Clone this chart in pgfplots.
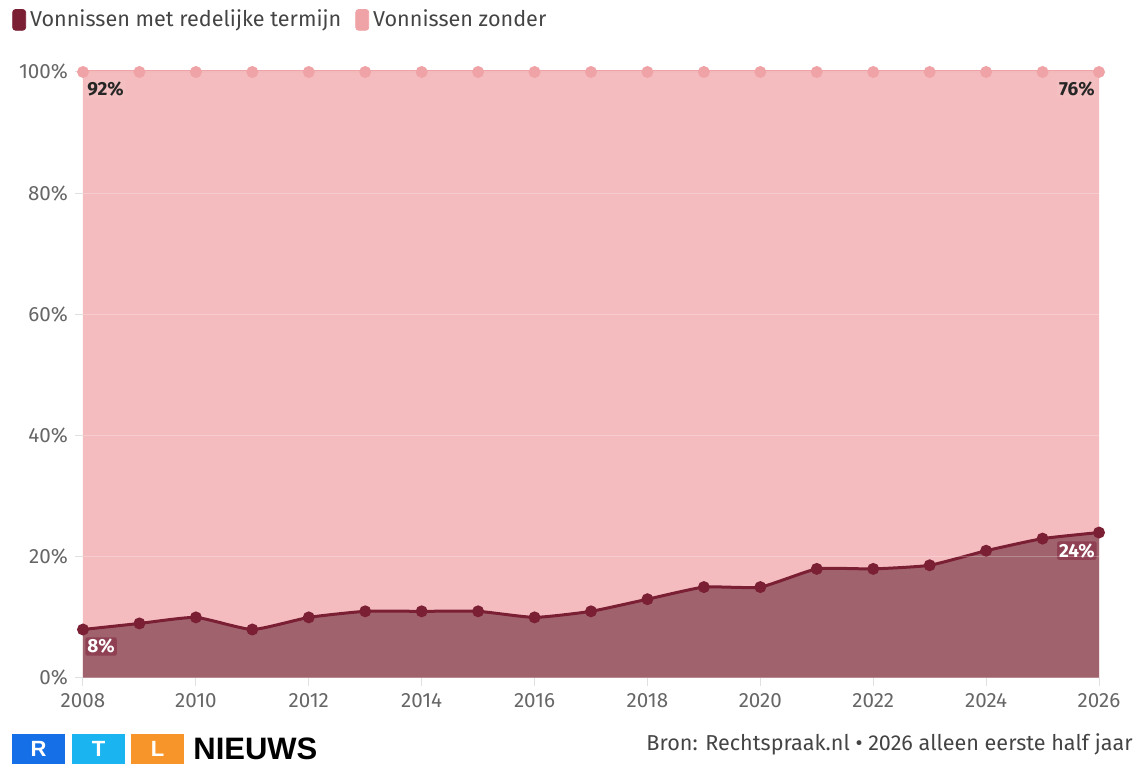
\documentclass[border=0pt]{standalone}
\usepackage{fontspec}
\setmainfont{Fira Sans}
\newfontfamily\logofont{Liberation Sans}
\usepackage{pgfplots}
\pgfplotsset{compat=1.18}
\usepackage{pgfplotstable}
\definecolor{darkline}{HTML}{7B1F35}
\definecolor{darkfill}{HTML}{A0636E}
\definecolor{lightfill}{HTML}{F4BCBF}
\definecolor{lightline}{HTML}{F0A3A6}
\definecolor{ticktext}{HTML}{666666}
\definecolor{legtext}{HTML}{444444}
\definecolor{rtlR}{HTML}{156FE6}
\definecolor{rtlT}{HTML}{1AB4F0}
\definecolor{rtlL}{HTML}{F7952A}

\pgfplotstableread{
year met zonder
2008 8 92
2009 9 91
2010 10 90
2011 8 92
2012 10 90
2013 11 89
2014 11 89
2015 11 89
2016 10 90
2017 11 89
2018 13 87
2019 15 85
2020 15 85
2021 18 82
2022 18 82
2023 18.6 81.4
2024 21 79
2025 23 77
2026 24 76
}\datatable

\begin{document}
\begin{tikzpicture}
\path[use as bounding box] (0,0) rectangle (568pt,382pt);
\begin{axis}[
  at={(41.5pt,43pt)}, anchor=south west,
  scale only axis, width=508pt, height=303pt,
  xmin=2008, xmax=2026, ymin=0, ymax=100,
  clip=false,
  axis on top,
  axis x line*=bottom, axis y line*=left,
  axis line style={draw=none},
  xtick={2008,2010,...,2026}, ytick={0,20,...,100},
  tick align=outside,
  major tick length=4pt,
  tick style={draw=black!12, line width=0.5pt},
  /pgf/number format/assume math mode=true,
  /pgf/number format/1000 sep={},
  yticklabel={\pgfmathprintnumber{\tick}\%},
  tick label style={font=\fontsize{10.3}{12}\selectfont, text=ticktext},
  ymajorgrids,
  grid style={draw=white, opacity=0.25, line width=0.6pt},
  legend style={at={(-0.070,1.086)}, anchor=west, draw=none, fill=none,
    legend columns=2, font=\fontsize{10.8}{13}\selectfont, text=legtext,
    inner sep=0pt, /tikz/every even column/.style={column sep=5pt}},
  legend cell align=left,
]
\addplot[draw=none, fill=lightfill, forget plot] table[x=year, y expr=\thisrow{met}+\thisrow{zonder}] {\datatable} \closedcycle;
\addplot[lightline, line width=1.5pt, mark=*, mark size=2.2pt, mark options={fill=lightline, draw=lightline}, forget plot] table[x=year, y expr=\thisrow{met}+\thisrow{zonder}] {\datatable};
\addplot[draw=none, fill=darkfill, smooth, tension=0.3, forget plot] table[x=year, y=met] {\datatable} \closedcycle;
\addplot[darkline, line width=1.5pt, smooth, tension=0.3, mark=*, mark size=2.2pt, mark options={fill=darkline, draw=darkline}, forget plot] table[x=year, y=met] {\datatable};

\addlegendimage{legend image code/.code={\fill[darkline, rounded corners=1.5pt] (0pt,-5.2pt) rectangle (6.5pt,5.2pt);}}
\addlegendentry{Vonnissen met redelijke termijn}
\addlegendimage{legend image code/.code={\fill[lightline, rounded corners=1.5pt] (0pt,-5.2pt) rectangle (6.5pt,5.2pt);}}
\addlegendentry{Vonnissen zonder}

\node[anchor=west, font=\bfseries\fontsize{9.5}{11}\selectfont, text=black!85, inner sep=1pt, fill=lightline!70, rounded corners=1pt, xshift=1pt, yshift=-8.5pt] at (axis cs:2008,100) {92\%};
\node[anchor=east, font=\bfseries\fontsize{9.5}{11}\selectfont, text=black!85, inner sep=1pt, fill=lightline!70, rounded corners=1pt, xshift=-1pt, yshift=-8.5pt] at (axis cs:2026,100) {76\%};
\node[anchor=west, font=\bfseries\fontsize{9.5}{11}\selectfont, text=white, inner sep=1pt, fill=darkline!85, rounded corners=1pt, xshift=1pt, yshift=-8.5pt] at (axis cs:2008,8) {8\%};
\node[anchor=east, font=\bfseries\fontsize{9.5}{11}\selectfont, text=white, inner sep=1pt, fill=darkline!85, rounded corners=1pt, xshift=-1pt, yshift=-9pt] at (axis cs:2026,24) {24\%};
\end{axis}

\begin{scope}[x=0.5pt, y=-0.5pt, shift={(0pt,382pt)}]
\fill[rtlR] (12,734) rectangle (65,764);
\fill[rtlT] (72,734) rectangle (125,764);
\fill[rtlL] (131,734) rectangle (184,764);
\node[text=white, font=\logofont\bfseries\fontsize{11}{11}\selectfont, inner sep=0pt] at (38.5,749) {R};
\node[text=white, font=\logofont\bfseries\fontsize{11}{11}\selectfont, inner sep=0pt] at (98.5,749) {T};
\node[text=white, font=\logofont\bfseries\fontsize{11}{11}\selectfont, inner sep=0pt] at (157.5,749) {L};
\node[anchor=west, font=\logofont\bfseries\fontsize{15.5}{16}\selectfont, inner sep=0pt] at (193,749) {NIEUWS};
\node[anchor=base east, font=\fontsize{10.8}{13}\selectfont, text=legtext, inner sep=0pt] at (1133,751) {Bron: Rechtspraak.nl • 2026 alleen eerste half jaar};
\end{scope}
\end{tikzpicture}
\end{document}
